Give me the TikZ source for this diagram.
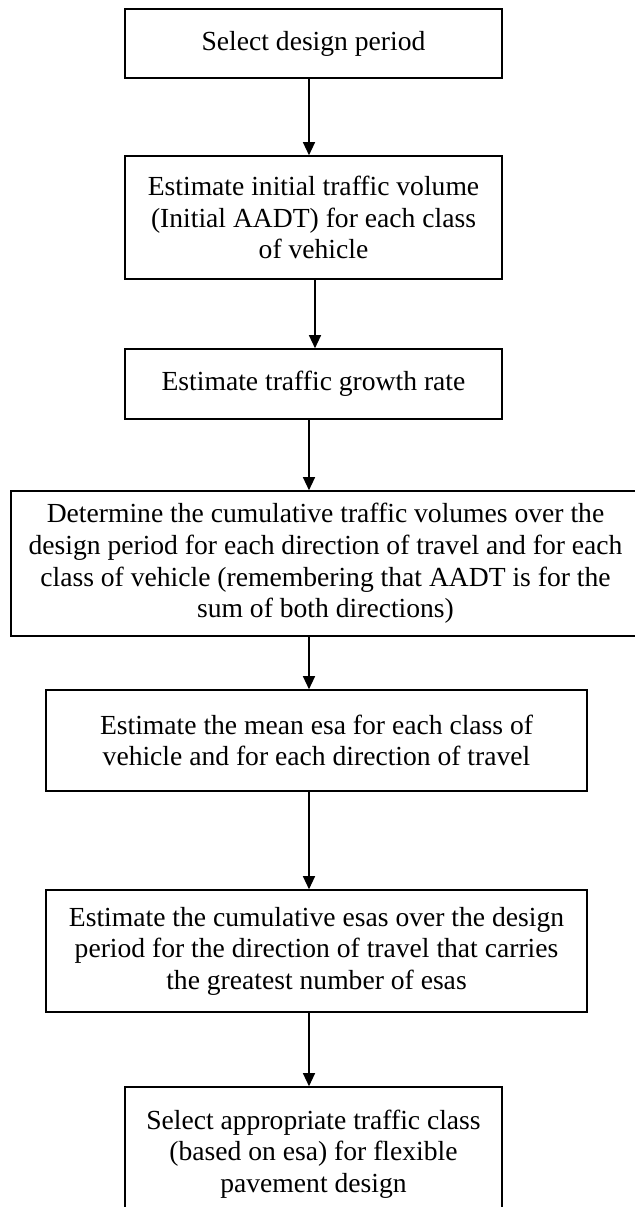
\documentclass[tikz,border=0pt]{standalone}
\usepackage{fontspec}
\setmainfont{Liberation Serif}
\usetikzlibrary{arrows.meta}
\tikzset{
  stepbox/.style={draw=black, line width=0.8pt, inner sep=0pt, align=center,
    font=\fontsize{13.8}{15.8}\selectfont},
  arr/.style={line width=0.6pt, -{Triangle[length=6.5pt,width=6pt]}}
}
\begin{document}
\begin{tikzpicture}[x=0.5pt,y=-0.5pt]
\useasboundingbox (0,0) rectangle (635,1207);
\fill[white] (0,0) rectangle (635,1207);
\begin{scope}
\clip (0,0) rectangle (635,1207);
\node[stepbox, minimum width=188.5pt, minimum height=34.5pt] (b1) at (313.5,43.5) {Select design period};
\node[stepbox, minimum width=188.5pt, minimum height=61.5pt] (b2) at (313.5,217.5) {Estimate initial traffic volume\\(Initial AADT) for each class\\of vehicle};
\node[stepbox, minimum width=188.5pt, minimum height=35pt] (b3) at (313.5,384) {Estimate traffic growth rate};
\node[stepbox, minimum width=314.5pt, minimum height=72.5pt] (b4) at (325.5,563.5) {Determine the cumulative traffic volumes over the\\design period for each direction of travel and for each\\class of vehicle (remembering that AADT is for the\\sum of both directions)};
\node[stepbox, minimum width=270.5pt, minimum height=50.5pt] (b5) at (316.5,740.5) {Estimate the mean esa for each class of\\vehicle and for each direction of travel};
\node[stepbox, minimum width=270.5pt, minimum height=61pt] (b6) at (316.5,951) {Estimate the cumulative esas over the design\\period for the direction of travel that carries\\the greatest number of esas};
\node[stepbox, minimum width=188.5pt, minimum height=67pt] (b7) at (313.5,1154) {Select appropriate traffic class\\(based on esa) for flexible\\pavement design};
\coordinate (xa) at (309,0);
\coordinate (xb) at (315,0);
\draw[arr] (b1.south -| xa) -- (b2.north -| xa);
\draw[arr] (b2.south -| xb) -- (b3.north -| xb);
\draw[arr] (b3.south -| xa) -- (b4.north -| xa);
\draw[arr] (b4.south -| xa) -- (b5.north -| xa);
\draw[arr] (b5.south -| xa) -- (b6.north -| xa);
\draw[arr] (b6.south -| xa) -- (b7.north -| xa);
\end{scope}
\end{tikzpicture}
\end{document}
